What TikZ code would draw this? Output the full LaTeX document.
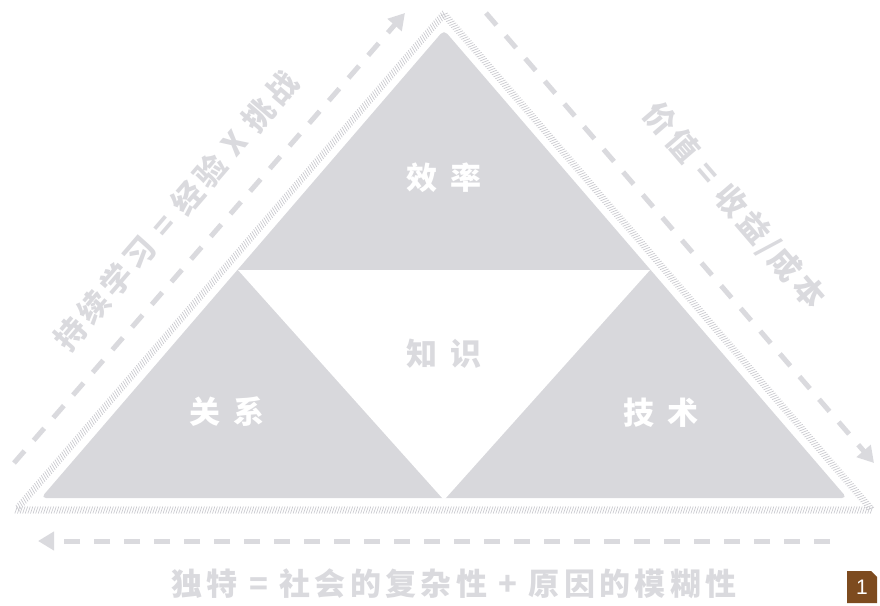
\documentclass[tikz,border=0pt]{standalone}
\usepackage{fontspec}
\newfontfamily\cjk{Noto Sans CJK SC}
\newfontfamily\cjkw{Noto Sans CJK SC}[LetterSpace=14]
\newfontfamily\numfont{Liberation Sans}
\usetikzlibrary{arrows.meta,decorations.markings}
\definecolor{tri}{HTML}{D8D8DC}
\definecolor{lbl}{HTML}{DADADE}
\definecolor{rope}{HTML}{CACACF}
\definecolor{badge}{HTML}{7D4B1F}
\begin{document}
\begin{tikzpicture}[x=1pt,y=-1pt,
  sidetext/.style={text=lbl, font=\cjkw\bfseries\fontsize{31}{31}\selectfont, inner sep=0pt},
  inlabel/.style={font=\cjk\bfseries\fontsize{31}{31}\selectfont, inner sep=0pt},
  dasharrow/.style={draw=lbl, line width=5pt, dash pattern=on 16pt off 14pt, -{Triangle[length=16pt,width=18pt]}},
  ropeline/.style={decorate, decoration={markings, mark=between positions 0 and 1 step 2.6pt with {\draw[rope, line width=0.7pt] (-1.2pt,-3.5pt) -- (1.2pt,3.5pt);}}}
]
\useasboundingbox (0,0) rectangle (880,605);
% outer grey triangle
\coordinate (A) at (444,30);
\coordinate (B) at (41,498);
\coordinate (C) at (847,498);
\fill[tri, rounded corners=5pt] (A) -- (B) -- (C) -- cycle;
% inner white triangle
\coordinate (W1) at (238,270);
\coordinate (W2) at (650,270);
\coordinate (W3) at (444,500);
\fill[white] (W1) -- (W2) -- (W3) -- cycle;
% rope outline
\coordinate (RA) at (444,14);
\coordinate (RB) at (16,510);
\coordinate (RC) at (872,510);
\path[ropeline] (RA) -- (RB) -- (RC) -- cycle;
% dashed arrows
\coordinate (l1) at (14,463);
\coordinate (l2) at (405,13);
\coordinate (r1) at (486,13);
\coordinate (r2) at (874,463);
\coordinate (b1) at (830,541);
\coordinate (b2) at (38,541);
\draw[dasharrow] (l1) -- (l2);
\draw[dasharrow] (r1) -- (r2);
\draw[dasharrow] (b1) -- (b2);
% side texts
\node[sidetext, rotate=49.3] (lt) at (176,211) {持续学习 = 经验 X 挑战};
\node[sidetext, rotate=-49.3] (rt) at (734,206) {价值 = 收益\hspace{3pt}/\hspace{3pt}成本};
\node[sidetext] (bt) at (454,584) {独特 = 社会的复杂性 + 原因的模糊性};
% inner labels
\node[inlabel, text=white] (eff) at (444,178) {效\hspace{14pt}率};
\node[inlabel, text=lbl] (know) at (444,354) {知\hspace{14pt}识};
\node[inlabel, text=white] (rel) at (227,412) {关\hspace{14pt}系};
\node[inlabel, text=white] (tech) at (661,413) {技\hspace{14pt}术};
% badge
\fill[badge] (847,571) -- (871,571) -- (877,577) -- (877,603) -- (847,603) -- cycle;
\node[text=white, font=\numfont\fontsize{21}{21}\selectfont, inner sep=0pt] (num) at (862,587) {1};
\end{tikzpicture}
\end{document}
